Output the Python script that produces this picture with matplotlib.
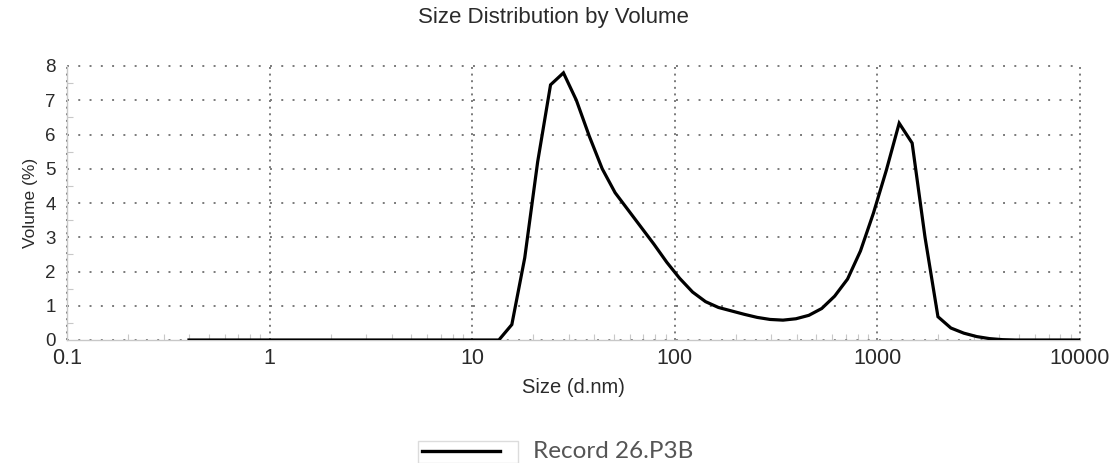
import matplotlib
matplotlib.use("Agg")
import matplotlib.pyplot as plt
from matplotlib.lines import Line2D
from matplotlib.patches import Rectangle
from matplotlib.ticker import AutoMinorLocator, LogLocator, NullFormatter

# size bins (d.nm) and volume (%) for the record
size_nm = [0.4, 0.4632, 0.5365, 0.6213, 0.7195, 0.8332, 0.9649, 1.117, 1.294, 1.499,
           1.736, 2.010, 2.328, 2.696, 3.122, 3.615, 4.187, 4.849, 5.615, 6.503,
           7.531, 8.721, 10.10, 11.70, 13.54, 15.69, 18.17, 21.04, 24.36, 28.21,
           32.67, 37.84, 43.82, 50.75, 58.77, 68.06, 78.82, 91.28, 105.7, 122.4,
           141.8, 164.2, 190.1, 220.2, 255.0, 295.3, 342.0, 396.1, 458.7, 531.2,
           615.1, 712.4, 825.0, 955.4, 1106, 1281, 1484, 1718, 1990, 2305,
           2669, 3091, 3580, 4145, 4801, 5560, 6439, 7456, 8635, 10000]
volume_pct = [0, 0, 0, 0, 0, 0, 0, 0, 0, 0,
              0, 0, 0, 0, 0, 0, 0, 0, 0, 0,
              0, 0, 0, 0, 0, 0.45, 2.4, 5.2, 7.45, 7.8,
              7.0, 5.95, 5.0, 4.3, 3.8, 3.3, 2.8, 2.27, 1.8, 1.4,
              1.12, 0.95, 0.85, 0.75, 0.66, 0.6, 0.58, 0.62, 0.72, 0.92,
              1.28, 1.78, 2.6, 3.7, 4.95, 6.33, 5.75, 3.0, 0.68, 0.35,
              0.2, 0.1, 0.04, 0.01, 0, 0, 0, 0, 0, 0]

x_ticks = [0.1, 1, 10, 100, 1000, 10000]
x_labels = ["0.1", "1", "10", "100", "1000", "10000"]
record_name = "Record 26.P3B"

plt.rcParams["font.family"] = ["Liberation Sans", "DejaVu Sans"]
txt = "#2a2a2a"

fig = plt.figure(figsize=(11.18, 4.63), dpi=100)
ax = fig.add_axes([67 / 1118, 1 - 340 / 463, 1013 / 1118, 274 / 463])

ax.plot(size_nm, volume_pct, color="black", lw=2.3, solid_joinstyle="miter", zorder=3)

ax.set_xscale("log")
ax.set_xlim(0.1, 10000)
ax.set_ylim(0, 8)
ax.set_xticks(x_ticks)
ax.set_xticklabels(x_labels)
ax.set_yticks(range(0, 9))
ax.xaxis.set_minor_locator(LogLocator(base=10, subs=range(2, 10)))
ax.xaxis.set_minor_formatter(NullFormatter())
ax.yaxis.set_minor_locator(AutoMinorLocator(2))

ax.tick_params(axis="x", which="major", length=0, pad=6, labelsize=15.5, labelcolor=txt)
ax.tick_params(axis="y", which="major", length=0, pad=8, labelsize=13.5, labelcolor=txt)
ax.tick_params(which="minor", direction="in", length=4, width=0.8, color="#c8c8c8")

for side in ["top", "right"]:
    ax.spines[side].set_visible(False)
for side in ["left", "bottom"]:
    ax.spines[side].set_color("#c8c8c8")
    ax.spines[side].set_linewidth(1.0)

ax.yaxis.grid(True, which="major", linestyle=(0, (1, 4.8)), color="#7a7a7a", lw=1.4)
ax.xaxis.grid(True, which="major", linestyle=(0, (1, 2.4)), color="#7a7a7a", lw=1.4)
for gl in ax.get_xgridlines() + ax.get_ygridlines():
    gl.set_clip_on(False)
ax.set_axisbelow(True)

ax.set_xlabel("Size (d.nm)", fontsize=14.5, color=txt, labelpad=6)
ax.set_ylabel("Volume (%)", fontsize=12.5, color=txt, labelpad=5)
fig.text(553 / 1118, 1 - 17 / 463, "Size Distribution by Volume", ha="center", va="center",
         fontsize=16, color=txt)

# legend drawn by hand: framed line sample with the record name beside it
fig.add_artist(Rectangle((418 / 1118, 0), 100 / 1118, 1 - 441 / 463, transform=fig.transFigure,
                         fill=False, edgecolor="#dcdcdc", lw=1.0))
fig.add_artist(Line2D([422 / 1118, 500 / 1118], [1 - 451 / 463] * 2, transform=fig.transFigure,
                      color="black", lw=2.4))
fig.text(533 / 1118, 1 - 451 / 463, record_name, ha="left", va="center", fontsize=17.5,
         family="Lato", color="#555555")

fig.savefig("out.png", dpi=100)
